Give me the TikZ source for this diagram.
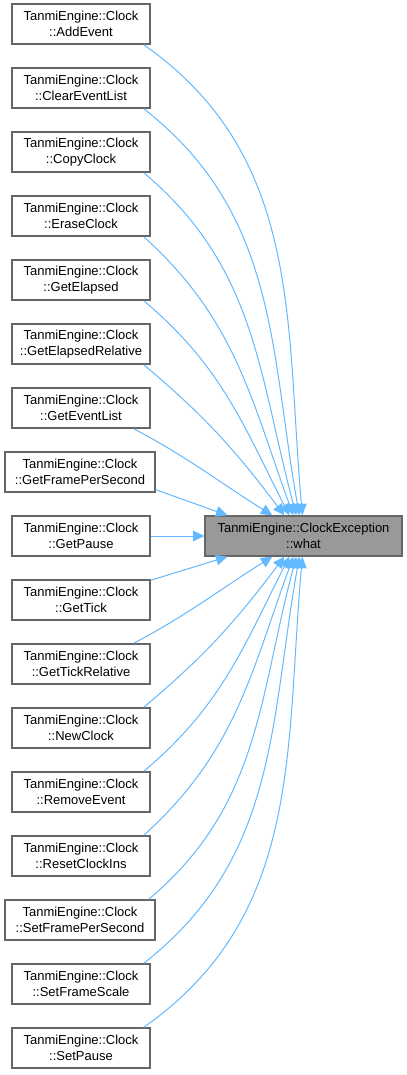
\documentclass[tikz,border=0pt]{standalone}
\usepackage{fontspec}
\setmainfont{Liberation Sans}
\usetikzlibrary{arrows.meta,calc}
\definecolor{edgeblue}{HTML}{63B8FF}
\definecolor{boxgray}{HTML}{666666}
\definecolor{whatfill}{HTML}{999999}
\tikzset{
  fn/.style={draw=boxgray, fill=white, line width=1pt, minimum width=103.5pt, minimum height=30pt,
    align=center, inner sep=0pt, font=\fontsize{9.75}{11.5}\selectfont},
  fnwide/.style={fn, minimum width=112.5pt},
  call/.style={draw=edgeblue, line width=0.75pt, -{Triangle[length=8.5pt,width=8pt]}}
}
\begin{document}
\begin{tikzpicture}[x=0.75pt, y=0.75pt]
  \useasboundingbox (0,0) rectangle (407,-1075);
  % callers
  \node[fn]     (addevent)   at (81,-24)   {TanmiEngine::Clock\\::AddEvent};
  \node[fn]     (clearlist)  at (81,-88)   {TanmiEngine::Clock\\::ClearEventList};
  \node[fn]     (copyclock)  at (81,-152)  {TanmiEngine::Clock\\::CopyClock};
  \node[fn]     (eraseclock) at (81,-216)  {TanmiEngine::Clock\\::EraseClock};
  \node[fn]     (getelapsed) at (81,-280)  {TanmiEngine::Clock\\::GetElapsed};
  \node[fn]     (getelaprel) at (81,-344)  {TanmiEngine::Clock\\::GetElapsedRelative};
  \node[fn]     (geteventl)  at (81,-408)  {TanmiEngine::Clock\\::GetEventList};
  \node[fnwide] (getfps)     at (80,-472)  {TanmiEngine::Clock\\::GetFramePerSecond};
  \node[fn]     (getpause)   at (81,-536)  {TanmiEngine::Clock\\::GetPause};
  \node[fn]     (gettick)    at (81,-600)  {TanmiEngine::Clock\\::GetTick};
  \node[fn]     (gettickrel) at (81,-664)  {TanmiEngine::Clock\\::GetTickRelative};
  \node[fn]     (newclock)   at (81,-728)  {TanmiEngine::Clock\\::NewClock};
  \node[fn]     (removeev)   at (81,-792)  {TanmiEngine::Clock\\::RemoveEvent};
  \node[fn]     (resetins)   at (81,-856)  {TanmiEngine::Clock\\::ResetClockIns};
  \node[fnwide] (setfps)     at (80,-920)  {TanmiEngine::Clock\\::SetFramePerSecond};
  \node[fn]     (setscale)   at (81,-984)  {TanmiEngine::Clock\\::SetFrameScale};
  \node[fn]     (setpause)   at (81,-1048) {TanmiEngine::Clock\\::SetPause};
  % callee
  \node[fn, fill=whatfill, minimum width=147.75pt] (what) at (303.5,-536) {TanmiEngine::ClockException\\::what};
  % upper calls
  \foreach \n/\dx/\o/\i in {addevent/98/-35/95, clearlist/95/-38/100, copyclock/92/-40/105,
      eraseclock/89/-42/110, getelapsed/85/-40/117, getelaprel/80/-40/127}
    \draw[call] ($(\n.south east)+(-7,0)$) to[out=\o,in=\i] ($(what.north west)+(\dx,0)$);
  \draw[call] ($(geteventl.south east)+(-17,0)$) to[out=-28,in=148] ($(what.north west)+(68,0)$);
  \draw[call] ($(getfps.south east)+(0,3)$) -- ($(what.north west)+(23,0)$);
  \draw[call] (getpause.east) -- (what.west);
  % lower calls
  \draw[call] ($(gettick.north east)+(0,-1)$) -- ($(what.south west)+(23,0)$);
  \draw[call] ($(gettickrel.north east)+(-17,0)$) to[out=28,in=-148] ($(what.south west)+(68,0)$);
  \foreach \n/\dx/\o/\i in {newclock/80/40/-127, removeev/85/40/-117, resetins/89/42/-110,
      setfps/92/40/-105, setscale/95/38/-100, setpause/98/35/-95}
    \draw[call] ($(\n.north east)+(-7,0)$) to[out=\o,in=\i] ($(what.south west)+(\dx,0)$);
\end{tikzpicture}
\end{document}
